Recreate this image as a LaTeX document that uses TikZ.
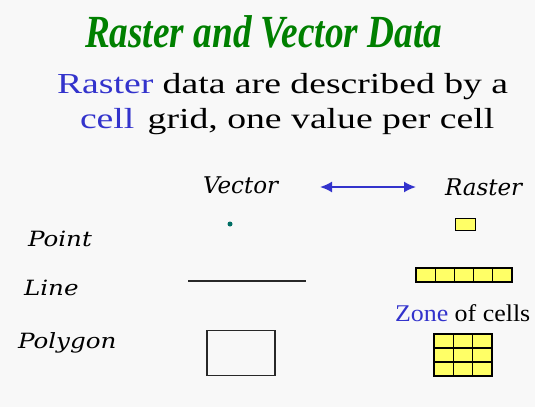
\documentclass[tikz,border=0pt]{standalone}
\usepackage{fontspec}
\setmainfont{Liberation Serif}
\newfontfamily\timesfont{Liberation Serif}
\newfontfamily\slabfont{DejaVu Serif}
\usetikzlibrary{arrows.meta,calc}
\definecolor{titlegreen}{RGB}{0,128,0}
\definecolor{txtblue}{RGB}{51,51,204}
\definecolor{cellyellow}{RGB}{255,255,102}
\definecolor{dotteal}{RGB}{0,110,100}
\definecolor{bgcol}{RGB}{248,248,248}
\definecolor{linegray}{RGB}{40,40,40}
\newcommand{\rowlabel}[1]{\scalebox{1.17}[1]{\fontsize{21}{23}\slabfont\itshape #1}}
\begin{document}
\begin{tikzpicture}[x=1pt,y=-1pt,
  every node/.style={inner sep=0pt, outer sep=0pt},
  lbl/.style={anchor=base west},
  hdr/.style={anchor=base west, font=\fontsize{23}{25}\slabfont\itshape},
  cellbox/.style={draw=black, fill=cellyellow, line width=1.3pt},
  divider/.style={draw=black, line width=1.3pt},
  shapeline/.style={draw=linegray, line width=1.8pt}]
\fill[bgcol] (0,0) rectangle (535,407);
\useasboundingbox (0,0) rectangle (535,407);

% title and subtitle
\node[anchor=base west, text=titlegreen] (title) at (85,47)
  {\scalebox{0.81}[1]{\fontsize{46}{50}\timesfont\bfseries\itshape Raster and Vector Data}};
\node[anchor=base west] (sub1) at (57,93)
  {\scalebox{1.3}[1]{\fontsize{29}{32}\timesfont \textcolor{txtblue}{Raster} data are described by a}};
\node[anchor=base west] (sub2) at (80,128)
  {\scalebox{1.3}[1]{\fontsize{29}{32}\timesfont \textcolor{txtblue}{cell}\hspace{3pt} grid, one value per cell}};

% headers
\node[hdr] (vec) at (203,193) {Vector};
\node[hdr] (ras) at (445,195) {Raster};
\coordinate (arrL) at (320,187);
\coordinate (arrR) at (416,187);
\draw[txtblue, line width=1.8pt, {Latex[length=12pt,width=11pt]}-{Latex[length=12pt,width=11pt]}] (arrL) -- (arrR);

% row labels
\node[lbl] (point) at (28,246) {\rowlabel{Point}};
\node[lbl] (line) at (24,295) {\rowlabel{Line}};
\node[lbl] (poly) at (18,348) {\rowlabel{Polygon}};

% point
\node[circle, fill=dotteal, minimum size=5pt] (vpoint) at (230,224) {};
\node[cellbox, minimum width=20pt, minimum height=12pt] (rpoint) at (465.5,224.5) {};

% line
\coordinate (vl1) at (188,281);
\coordinate (vl2) at (306,281);
\draw[shapeline] (vl1) -- (vl2);
\node[cellbox, minimum width=96pt, minimum height=14pt] (rline) at (464,275) {};
\foreach \k in {1,2,3,4}
  \draw[divider] ($(rline.south west)!\k/5!(rline.south east)$) -- ($(rline.north west)!\k/5!(rline.north east)$);

% zone label
\node[anchor=base west] (zone) at (395,321)
  {\scalebox{1.08}[1]{\fontsize{24}{26}\timesfont\textcolor{txtblue}{Zone} of cells}};

% polygon
\node[shapeline, minimum width=68pt, minimum height=45pt] (vpoly) at (241,353) {};
\node[cellbox, minimum width=58pt, minimum height=42pt] (rpoly) at (463,355) {};
\foreach \k in {1,2}{
  \draw[divider] ($(rpoly.south west)!\k/3!(rpoly.south east)$) -- ($(rpoly.north west)!\k/3!(rpoly.north east)$);
  \draw[divider] ($(rpoly.north west)!\k/3!(rpoly.south west)$) -- ($(rpoly.north east)!\k/3!(rpoly.south east)$);
}
\end{tikzpicture}
\end{document}
